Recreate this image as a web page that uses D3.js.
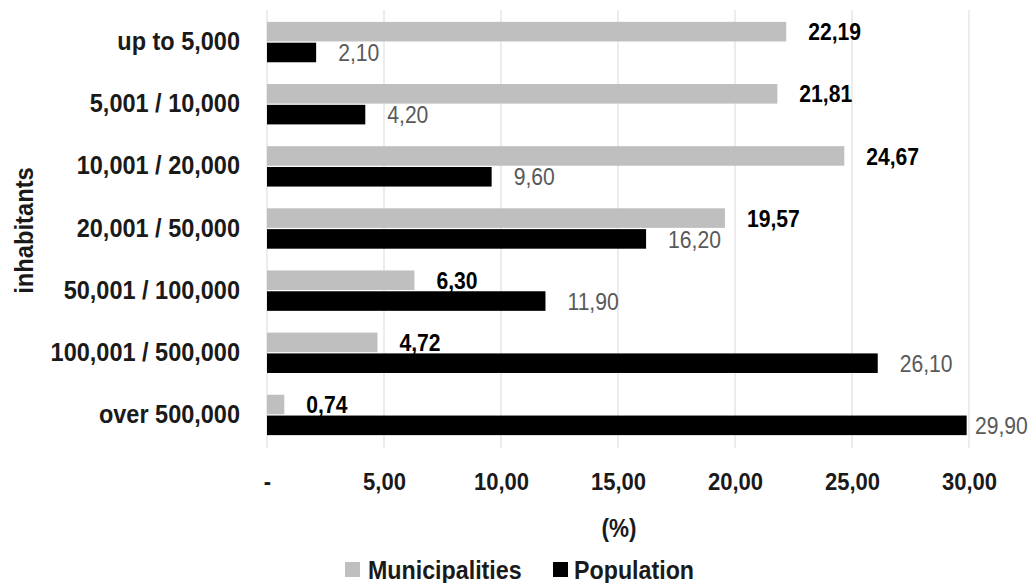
<!DOCTYPE html>
<html>
<head>
<meta charset="utf-8">
<script src="https://cdn.jsdelivr.net/npm/d3@7"></script>
<style>
  body { margin: 0; background: #fff; }
  svg { display: block; font-family: "Liberation Sans", Arial, sans-serif; }
</style>
</head>
<body>
<div id="chart"></div>
<script>
// data
const categories = ['up to 5,000', '5,001 / 10,000', '10,001 / 20,000', '20,001 / 50,000',
  '50,001 / 100,000', '100,001 / 500,000', 'over 500,000'];
const municipalities = [22.19, 21.81, 24.67, 19.57, 6.30, 4.72, 0.74];
const population = [2.10, 4.20, 9.60, 16.20, 11.90, 26.10, 29.90];
const seriesNames = ['Municipalities', 'Population'];
const xTicks = [0, 5, 10, 15, 20, 25, 30];

// svg領域
const svgWidth = 1035;
const svgHeight = 583;
const svg = d3.select('#chart')
  .append('svg')
  .attr('width', svgWidth)
  .attr('height', svgHeight);

const margin = { top: 11, right: 66, bottom: 137, left: 267 };
const plotRight = svgWidth - margin.right;
const plotBottom = svgHeight - margin.bottom;

// scales
const xScale = d3.scaleLinear().domain([0, 30]).range([margin.left, plotRight]);
const yScale = d3.scaleBand()
  .domain(categories)
  .range([margin.top, plotBottom])
  .paddingInner(0.35)
  .paddingOuter(0.175);
const subScale = d3.scaleBand()
  .domain(seriesNames)
  .range([0, yScale.bandwidth()])
  .paddingInner(0.06);
const color = d3.scaleOrdinal().domain(seriesNames).range(['#bfbfbf', '#000000']);

const fmt = v => v === 0 ? '-' : d3.format('.2f')(v).replace('.', ',');

// 縦長の文字 (narrow font look)
const narrow = (x, y, sx) => `translate(${x},${y}) scale(${sx},1)`;

const rows = categories.map((c, i) => ({
  cat: c,
  values: [
    { key: 'Municipalities', v: municipalities[i] },
    { key: 'Population', v: population[i] }
  ]
}));

// grid
svg.append('g')
  .selectAll('line')
  .data(xTicks)
  .join('line')
  .attr('x1', d => xScale(d))
  .attr('x2', d => xScale(d))
  .attr('y1', margin.top - 1)
  .attr('y2', plotBottom + 2)
  .attr('stroke', '#d9d9d9')
  .attr('stroke-width', 1);

// x axis (labels only)
const xAxis = svg.append('g')
  .attr('transform', `translate(0,${plotBottom + 24})`)
  .call(d3.axisBottom(xScale).tickValues(xTicks).tickFormat(fmt).tickSize(0));
xAxis.select('.domain').remove();
xAxis.selectAll('text')
  .attr('font-family', '"Liberation Sans", Arial, sans-serif')
  .attr('font-size', '24.5px')
  .attr('font-weight', 'bold')
  .attr('fill', '#1a1a1a')
  .attr('transform', 'scale(0.9,1)');

// y axis (labels only)
const yAxis = svg.append('g')
  .attr('transform', `translate(${margin.left - 27},0)`)
  .call(d3.axisLeft(yScale).tickSize(0));
yAxis.select('.domain').remove();
yAxis.selectAll('text')
  .attr('x', 0)
  .attr('font-family', '"Liberation Sans", Arial, sans-serif')
  .attr('font-size', '25px')
  .attr('font-weight', 'bold')
  .attr('fill', '#1a1a1a')
  .attr('transform', 'scale(0.94,1)');

// bars
const groups = svg.append('g')
  .selectAll('g')
  .data(rows)
  .join('g')
  .attr('transform', d => `translate(0,${yScale(d.cat)})`);

groups.selectAll('rect')
  .data(d => d.values)
  .join('rect')
  .attr('x', xScale(0))
  .attr('y', d => subScale(d.key))
  .attr('width', d => xScale(d.v) - xScale(0))
  .attr('height', subScale.bandwidth())
  .attr('fill', d => color(d.key));

// data labels
groups.selectAll('text')
  .data(d => d.values)
  .join('text')
  .attr('transform', d => narrow(
    d.key === 'Population' ? Math.min(xScale(d.v) + 22, xScale(30) + 6) : xScale(d.v) + 22,
    subScale(d.key) + subScale.bandwidth() / 2,
    0.88))
  .attr('dy', '0.36em')
  .attr('font-size', '24px')
  .attr('font-weight', d => d.key === 'Population' ? 'normal' : 'bold')
  .attr('fill', d => d.key === 'Population' ? '#595959' : '#000')
  .text(d => fmt(d.v));

// axis titles
svg.append('text')
  .attr('transform', `translate(33,${(margin.top + plotBottom) / 2 + 2}) rotate(-90) scale(0.95,1)`)
  .attr('text-anchor', 'middle')
  .attr('font-size', '25px')
  .attr('font-weight', 'bold')
  .attr('fill', '#1a1a1a')
  .text('inhabitants');

svg.append('text')
  .attr('transform', narrow((margin.left + plotRight) / 2 + 1, 537, 0.9))
  .attr('text-anchor', 'middle')
  .attr('font-size', '25px')
  .attr('font-weight', 'bold')
  .attr('fill', '#1a1a1a')
  .text('(%)');

// legend
const legendX = [345, 553];
const legend = svg.append('g')
  .selectAll('g')
  .data(seriesNames)
  .join('g')
  .attr('transform', (d, i) => `translate(${legendX[i]},562)`);
legend.append('rect')
  .attr('width', 15)
  .attr('height', 15)
  .attr('fill', d => color(d));
legend.append('text')
  .attr('transform', (d, i) => narrow(i === 0 ? 23 : 21, 7.5, 0.93))
  .attr('dy', '0.36em')
  .attr('font-size', '25px')
  .attr('font-weight', 'bold')
  .attr('fill', '#1a1a1a')
  .text(d => d);
</script>
</body>
</html>
